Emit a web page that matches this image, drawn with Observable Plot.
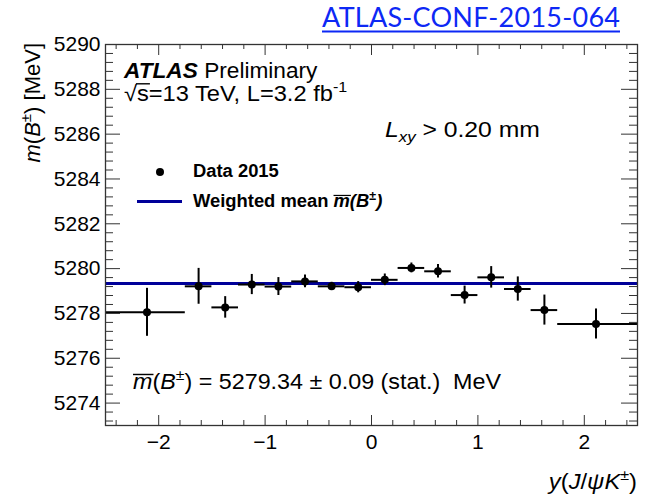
<!DOCTYPE html>
<html>
<head>
<meta charset="utf-8">
<script src="https://cdn.jsdelivr.net/npm/d3@7"></script>
<script src="https://cdn.jsdelivr.net/npm/@observablehq/plot@0.6"></script>
<style>
  html, body { margin: 0; padding: 0; background: white; }
</style>
</head>
<body>
<div id="chart"></div>
<script>
// ---- data ----
const binCenters = [-2.11, -1.625, -1.375, -1.125, -0.875, -0.625, -0.375, -0.125,
                     0.125, 0.375, 0.625, 0.875, 1.125, 1.375, 1.625, 2.11];
const binLow  = [-2.5, -1.75, -1.5, -1.25, -1.0, -0.75, -0.5, -0.25,
                  0.0, 0.25, 0.5, 0.75, 1.0, 1.25, 1.5, 1.75];
const binHigh = [-1.75, -1.5, -1.25, -1.0, -0.75, -0.5, -0.25, 0.0,
                  0.25, 0.5, 0.75, 1.0, 1.25, 1.5, 1.75, 2.5];
const massValues = [5278.05, 5279.21, 5278.27, 5279.29, 5279.20, 5279.43, 5279.21, 5279.17,
                    5279.50, 5280.03, 5279.88, 5278.82, 5279.61, 5279.09, 5278.15, 5277.53];
const massErrors = [1.07, 0.80, 0.48, 0.45, 0.40, 0.28, 0.18, 0.25,
                    0.26, 0.22, 0.30, 0.40, 0.48, 0.54, 0.67, 0.67];
const weightedMean = 5279.34;
const xMajorTicks = [-2, -1, 0, 1, 2];
const xMinorTicks = [-2.4,-2.2,-1.8,-1.6,-1.4,-1.2,-0.8,-0.6,-0.4,-0.2,0.2,0.4,0.6,0.8,1.2,1.4,1.6,1.8,2.2,2.4];
const yMajorTicks = [5274, 5276, 5278, 5280, 5282, 5284, 5286, 5288, 5290];
const yMinorTicks = [5273.2,5273.6,5274.4,5274.8,5275.2,5275.6,5276.4,5276.8,5277.2,5277.6,
                     5278.4,5278.8,5279.2,5279.6,5280.4,5280.8,5281.2,5281.6,5282.4,5282.8,
                     5283.2,5283.6,5284.4,5284.8,5285.2,5285.6,5286.4,5286.8,5287.2,5287.6,
                     5288.4,5288.8,5289.2,5289.6];

const data = binCenters.map((c, i) => ({c, lo: binLow[i], hi: binHigh[i], m: massValues[i], e: massErrors[i]}));

const FONT = "'Liberation Sans', Arial, Helvetica, sans-serif";
const W = 646, H = 494, ML = 105, MR = 9, MT = 44, MB = 69;
const innerW = W - ML - MR, innerH = H - MT - MB;
const FRAME = "#333";

const minus = d => d < 0 ? "\u2212" + Math.abs(d) : String(d);

const plot = Plot.plot({
  width: W, height: H,
  marginLeft: ML, marginRight: MR, marginTop: MT, marginBottom: MB,
  style: {fontFamily: FONT, fontSize: "21px", color: "#000", background: "white"},
  x: {domain: [-2.5, 2.5]},
  y: {domain: [5273, 5290]},
  marks: [
    Plot.ruleY([weightedMean], {stroke: "#000099", strokeWidth: 3}),
    Plot.ruleY(data, {y: "m", x1: "lo", x2: "hi", stroke: "black", strokeWidth: 2}),
    Plot.ruleX(data, {x: "c", y1: d => d.m - d.e, y2: d => d.m + d.e, stroke: "black", strokeWidth: 2}),
    Plot.dot(data, {x: "c", y: "m", r: 4, fill: "black", stroke: "none"}),
    // inward ticks on all four sides
    Plot.tickX(xMajorTicks, {insetTop: innerH - 10, stroke: FRAME}),
    Plot.tickX(xMajorTicks, {insetBottom: innerH - 11, stroke: FRAME}),
    Plot.tickX(xMinorTicks, {insetTop: innerH - 5, stroke: FRAME}),
    Plot.tickX(xMinorTicks, {insetBottom: innerH - 5, stroke: FRAME}),
    Plot.tickY(yMajorTicks, {insetRight: innerW - 15, stroke: FRAME}),
    Plot.tickY(yMajorTicks, {insetLeft: innerW - 16, stroke: FRAME}),
    Plot.tickY(yMinorTicks, {insetRight: innerW - 8, stroke: FRAME}),
    Plot.tickY(yMinorTicks, {insetLeft: innerW - 8, stroke: FRAME}),
    Plot.axisX({ticks: xMajorTicks, tickSize: 0, tickPadding: 9, tickFormat: minus, label: null, fontSize: 21}),
    Plot.axisY({ticks: yMajorTicks, tickSize: 0, tickPadding: 5, tickFormat: d => String(d), label: null, fontSize: 21}),
    Plot.frame({stroke: FRAME, strokeWidth: 1.3})
  ]
});

document.getElementById("chart").appendChild(plot);
const svg = d3.select(plot);

// rich text with italic / bold / super- and subscripts and drawn overlines;
// sx stretches the text horizontally like the (widened) reference figure
function rich(parent, x, y, size, parts, opts = {}) {
  const sx = opts.sx || 1;
  const g = parent.append("g").attr("transform", `translate(${x},${y}) scale(${sx},1)`);
  const t = g.append("text")
    .attr("x", 0).attr("y", 0)
    .attr("font-size", size)
    .attr("font-family", opts.family || FONT)
    .attr("text-anchor", opts.anchor || "start")
    .attr("fill", opts.fill || "black");
  if (opts.weight) t.attr("font-weight", opts.weight);
  let shift = 0;
  const overs = [];
  for (const p of parts) {
    const s = p.sup ? -0.4 * size : p.sub ? 0.25 * size : 0;
    const ts = t.append("tspan").text(p.t);
    if (s !== shift) { ts.attr("dy", s - shift); shift = s; }
    if (p.sup || p.sub) ts.attr("font-size", size * 0.68);
    if (p.i) ts.attr("font-style", "italic");
    if (p.b) ts.attr("font-weight", "bold");
    if (p.ov) overs.push([ts.node(), p.ov, p.ovPad || 0]);
  }
  for (const [node, h, pad] of overs) {
    const n = node.getNumberOfChars();
    const a = node.getStartPositionOfChar(0).x;
    const b = node.getEndPositionOfChar(n - 1).x;
    g.append("line")
      .attr("x1", a - pad).attr("x2", b + 1)
      .attr("y1", -h * size).attr("y2", -h * size)
      .attr("stroke", opts.fill || "black")
      .attr("stroke-width", Math.max(1.2, size * 0.065));
  }
  return t;
}

// link text at top
svg.append("text")
  .attr("x", 322).attr("y", 27)
  .attr("text-anchor", "start")
  .attr("font-family", "Lato, 'Open Sans', sans-serif")
  .attr("font-size", 27)
  .attr("fill", "#0d28f5")
  .attr("textLength", 298)
  .text("ATLAS-CONF-2015-064");
svg.append("line").attr("x1", 322).attr("x2", 620).attr("y1", 31.5).attr("y2", 31.5)
  .attr("stroke", "#0d28f5").attr("stroke-width", 2);

// ATLAS label
rich(svg, 124, 78, 22, [{t: "ATLAS", b: true, i: true}, {t: " Preliminary"}], {sx: 1.03});
rich(svg, 124, 101, 21.5, [{t: "\u221A"}, {t: "s", ov: 0.8, ovPad: 1}, {t: "=13 TeV, L=3.2 fb"}, {t: "-1", sup: true}], {sx: 1.1});

// Lxy cut
rich(svg, 385, 137, 21.5, [{t: "L", i: true}, {t: "xy", i: true, sub: true}, {t: " > 0.20 mm"}], {sx: 1.15});

// legend
svg.append("circle").attr("cx", 160).attr("cy", 172).attr("r", 4).attr("fill", "black");
rich(svg, 193, 177, 17.5, [{t: "Data 2015"}], {weight: "bold", sx: 1.05});
svg.append("line").attr("x1", 137).attr("x2", 182).attr("y1", 201.5).attr("y2", 201.5)
  .attr("stroke", "#000099").attr("stroke-width", 3);
rich(svg, 193, 207, 17.5, [{t: "Weighted mean "}, {t: "m", i: true, ov: 0.66}, {t: "(", i: true}, {t: "B", i: true}, {t: "\u00B1", sup: true}, {t: ")", i: true}], {weight: "bold", sx: 1.05});

// result text
rich(svg, 133, 389, 22, [{t: "m", i: true, ov: 0.66}, {t: "("}, {t: "B", i: true}, {t: "\u00B1", sup: true}, {t: ") = 5279.34 \u00B1 0.09 (stat.)  MeV"}], {sx: 1.06});

// y-axis title (rotated)
const gy = svg.append("g").attr("transform", "translate(40,43) rotate(-90)");
rich(gy, 0, 0, 22, [{t: "m", i: true}, {t: "("}, {t: "B", i: true}, {t: "\u00B1", sup: true}, {t: ") [MeV]"}], {anchor: "end"});

// x-axis title
rich(svg, 637, 489, 22, [{t: "y", i: true}, {t: "("}, {t: "J", i: true}, {t: "/"}, {t: "\u03C8", i: true}, {t: "K", i: true}, {t: "\u00B1", sup: true}, {t: ")"}], {anchor: "end", sx: 1.08});
</script>
</body>
</html>
